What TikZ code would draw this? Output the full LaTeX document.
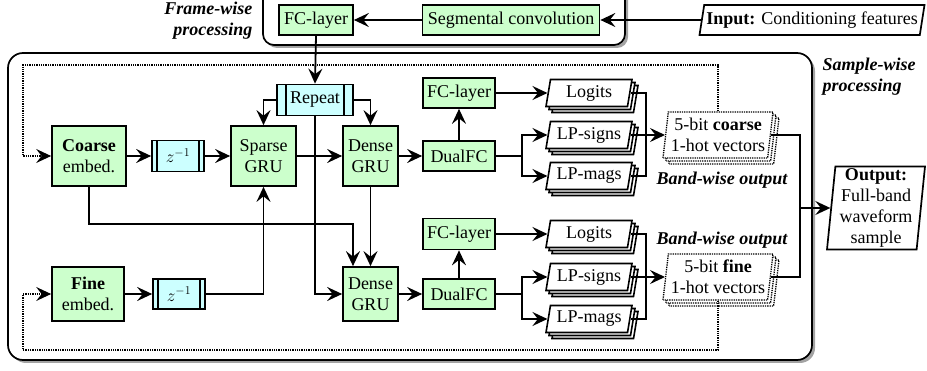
\documentclass[tikz,border=0pt]{standalone}
\usepackage{fontspec}
\setmainfont{Liberation Serif}
\usetikzlibrary{arrows.meta,shapes.geometric,shadows}
\definecolor{boxgreen}{RGB}{204,255,204}
\definecolor{boxcyan}{RGB}{204,255,255}
\newcommand\myfs{\fontsize{18}{21}\selectfont}
\begin{document}
\begin{tikzpicture}[x=1pt,y=-1pt,
  >={Stealth[length=15pt,width=14pt,inset=5.5pt]},
  every node/.style={font=\myfs},
  conn/.style={line width=1.8pt},
  fb/.style={line width=1.3pt, densely dotted},
  gbox/.style={draw, line width=1.7pt, fill=boxgreen, align=center, inner sep=1pt},
  cbox/.style={draw, line width=1.7pt, fill=boxcyan, align=center, inner sep=1pt,
    path picture={\draw[line width=1.7pt]
      ([xshift=#1]path picture bounding box.north west) -- ([xshift=#1]path picture bounding box.south west)
      ([xshift=-#1]path picture bounding box.north east) -- ([xshift=-#1]path picture bounding box.south east);}},
  stackbox/.style={trapezium, trapezium left angle=75, trapezium right angle=105,
    trapezium stretches body, draw, fill=white, line width=1.6pt,
    minimum width=86pt, minimum height=27pt, inner sep=0.5pt,
    copy shadow={shadow xshift=6pt, shadow yshift=-6pt, line width=1.6pt},
    copy shadow={shadow xshift=3pt, shadow yshift=-3pt, line width=1.6pt}},
  vecbox/.style={trapezium, trapezium left angle=81, trapezium right angle=99,
    trapezium stretches body, draw, fill=white, line width=1.3pt, densely dotted,
    minimum width=110pt, minimum height=46pt, inner sep=0pt, align=center,
    copy shadow={shadow xshift=6pt, shadow yshift=-6pt, line width=1.3pt, densely dotted},
    copy shadow={shadow xshift=3pt, shadow yshift=-3pt, line width=1.3pt, densely dotted}},
  iobox/.style={trapezium, trapezium stretches body, draw, fill=white, line width=1.7pt, align=center, inner sep=0.5pt},
  biglabel/.style={font=\myfs\bfseries\itshape},
  panel/.style={draw, line width=1.7pt, fill=white,
    drop shadow={shadow xshift=3pt, shadow yshift=-3pt, opacity=0.6, fill=black!60}},
]
\useasboundingbox (0,0) rectangle (927,371);
% panels
\draw[panel, rounded corners=11pt] (263,-20) rectangle (625,45);
\draw[panel, rounded corners=15pt] (8,53) rectangle (812,360);
% labels
\node[biglabel, align=right, anchor=east] (fw) at (256,21) {Frame-wise\\processing};
\node[biglabel, align=left, anchor=west] (sw) at (819,77) {Sample-wise\\processing};
\node[biglabel] (bw1) at (722,180) {Band-wise output};
\node[biglabel] (bw2) at (722,240) {Band-wise output};
% frame-wise nodes
\node[gbox, minimum width=74pt, minimum height=30pt] (fc0) at (316,20) {FC-layer};
\node[gbox, minimum width=177pt, minimum height=30pt] (seg) at (511,20) {Segmental convolution};
\node[iobox, trapezium left angle=75, trapezium right angle=105, minimum width=225pt, minimum height=30pt] (inp) at (812,20) {\textbf{Input:} Conditioning features};
% row 1
\node[cbox=9pt, minimum width=76pt, minimum height=31pt] (rep) at (315,100) {Repeat};
\node[gbox, minimum width=74pt, minimum height=60pt] (coarse) at (89,156) {\textbf{Coarse}\\embed.};
\node[cbox=5pt, minimum width=52pt, minimum height=31pt] (z1) at (178,156) {$z^{-1}$};
\node[gbox, minimum width=65pt, minimum height=60pt] (sparse) at (263.5,156) {Sparse\\GRU};
\node[gbox, minimum width=55pt, minimum height=60pt] (dense1) at (370.5,156) {Dense\\GRU};
\node[gbox, minimum width=72pt, minimum height=30pt] (dual1) at (459,156) {DualFC};
\node[gbox, minimum width=72pt, minimum height=30pt] (fc1) at (459,93) {FC-layer};
\node[stackbox] (logits1) at (589,93) {Logits};
\node[stackbox] (signs1) at (589,135) {LP-signs};
\node[stackbox] (mags1) at (589,176) {LP-mags};
\node[vecbox] (cvec) at (718,135) {5-bit \textbf{coarse}\\1-hot vectors};
% row 2
\node[gbox, minimum width=72pt, minimum height=54pt] (fine) at (88,294) {\textbf{Fine}\\embed.};
\node[cbox=5pt, minimum width=52pt, minimum height=30pt] (z2) at (179,294) {$z^{-1}$};
\node[gbox, minimum width=55pt, minimum height=54pt] (dense2) at (370.5,294) {Dense\\GRU};
\node[gbox, minimum width=72pt, minimum height=30pt] (dual2) at (459,294) {DualFC};
\node[gbox, minimum width=72pt, minimum height=31pt] (fc2) at (459,234) {FC-layer};
\node[stackbox] (logits2) at (589,234) {Logits};
\node[stackbox] (signs2) at (589,277) {LP-signs};
\node[stackbox] (mags2) at (589,319) {LP-mags};
\node[vecbox] (fvec) at (718,277) {5-bit \textbf{fine}\\1-hot vectors};
% output
\node[iobox, trapezium left angle=84, trapezium right angle=96, minimum width=98pt, minimum height=83pt] (out) at (876,208) {\textbf{Output:}\\Full-band\\waveform\\sample};
% connectors
\draw[conn,->] (inp.west) -- (seg.east);
\draw[conn,->] (seg.west) -- (fc0.east);
\draw[conn,->] (fc0.south) -- (rep.north);
\draw[conn,->] (rep.west) -| (sparse.north);
\draw[conn,->] (rep.east) -| (dense1.north);
\draw[conn,->] (rep.south) |- (dense2.west);
\draw[conn,->] (coarse.east) -- (z1.west);
\draw[conn,->] (z1.east) -- (sparse.west);
\draw[conn,->] (sparse.east) -- (dense1.west);
\draw[conn,->] (dense1.east) -- (dual1.west);
\coordinate (cj) at (353,224);
\draw[conn,->] (coarse.south) |- (cj) -- (cj |- dense2.north);
\draw[conn,->] (dense1.south) -- (dense2.north);
\draw[conn,->] (fine.east) -- (z2.west);
\draw[conn,->] (z2.east) -| (sparse.south);
\draw[conn,->] (dense2.east) -- (dual2.west);
\draw[conn,->] (dual1.north) -- (fc1.south);
\draw[conn,->] (dual2.north) -- (fc2.south);
\draw[conn,->] (fc1.east) -- (logits1.west);
\draw[conn,->] (fc2.east) -- (logits2.west);
\coordinate (s1) at (522,156);
\coordinate (s2) at (522,294);
\draw[conn] (dual1.east) -- (s1);
\draw[conn,->] (s1) |- (signs1.west);
\draw[conn,->] (s1) |- (mags1.west);
\draw[conn] (dual2.east) -- (s2);
\draw[conn,->] (s2) |- (signs2.west);
\draw[conn,->] (s2) |- (mags2.west);
\coordinate (k1) at (646,135);
\coordinate (k2) at (646,277);
\draw[conn] (logits1.east) -| (k1) |- (mags1.east);
\draw[conn] (logits2.east) -| (k2) |- (mags2.east);
\draw[conn,->] (signs1.east) -- (cvec.west);
\draw[conn,->] (signs2.east) -- (fvec.west);
\coordinate (m) at (800,208);
\draw[conn] (cvec.east) -| (m);
\draw[conn] (fvec.east) -| (m);
\draw[conn,->] (m) -- (out.west);
% feedback
\coordinate (d1) at (23,65);
\coordinate (d2) at (23,350);
\draw[fb,->] (cvec.north) |- (d1) |- (coarse.west);
\draw[fb,->] (fvec.south) |- (d2) |- (fine.west);
\end{tikzpicture}
\end{document}
